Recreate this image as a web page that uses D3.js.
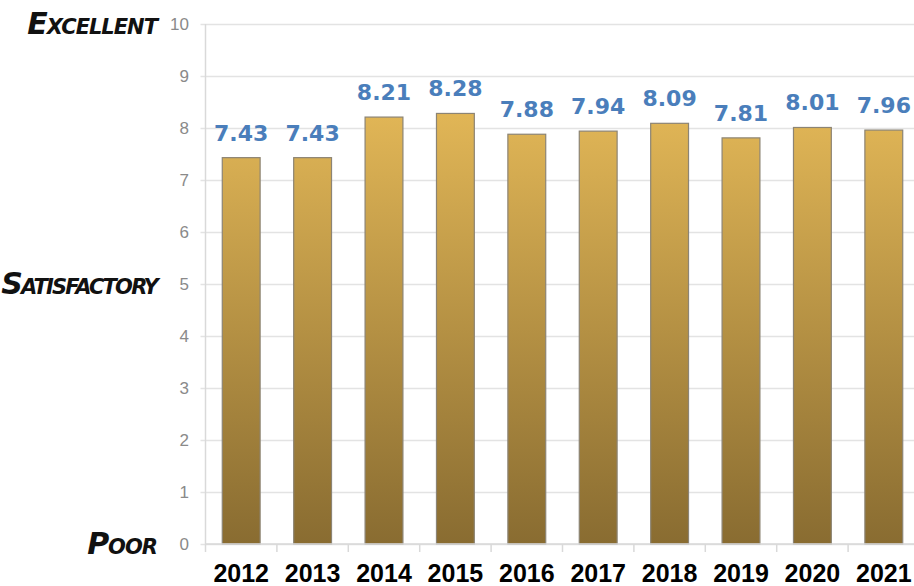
<!DOCTYPE html>
<html>
<head>
<meta charset="utf-8">
<script src="https://d3js.org/d3.v7.min.js"></script>
<style>
  body { margin: 0; background: #fff; overflow: hidden; }
  svg { display: block; }
</style>
</head>
<body>
<svg width="914" height="586"></svg>
<script>
// data
const years = ["2012", "2013", "2014", "2015", "2016", "2017", "2018", "2019", "2020", "2021"];
const scores = [7.43, 7.43, 8.21, 8.28, 7.88, 7.94, 8.09, 7.81, 8.01, 7.96];
const yTicks = [0, 1, 2, 3, 4, 5, 6, 7, 8, 9, 10];
const ratingLabels = ["Poor", "Satisfactory", "Excellent"];
const ratingValues = [0, 5, 10];

const svg = d3.select("svg");

// plot area
const plotLeft = 205.5, plotRight = 919.5, plotTop = 24, plotBottom = 544;

const x = d3.scaleBand()
    .domain(years)
    .range([plotLeft, plotRight])
    .paddingInner(0.47)
    .paddingOuter(0.235);

const y = d3.scaleLinear()
    .domain([0, 10])
    .range([plotBottom, plotTop]);

// gradient for the bars
const defs = svg.append("defs");
const grad = defs.append("linearGradient")
    .attr("id", "barGrad")
    .attr("gradientUnits", "userSpaceOnUse")
    .attr("x1", 0).attr("x2", 0)
    .attr("y1", y(10)).attr("y2", y(0));
grad.append("stop").attr("offset", "0%").attr("stop-color", "#f3c55e");
grad.append("stop").attr("offset", "100%").attr("stop-color", "#896c31");

// gridlines
svg.append("g")
    .selectAll("line")
    .data(yTicks)
    .enter()
    .append("line")
    .attr("x1", plotLeft - 5)
    .attr("x2", 914)
    .attr("y1", d => Math.round(y(d)) + 0.5)
    .attr("y2", d => Math.round(y(d)) + 0.5)
    .style("stroke", "#e3e3e3")
    .style("stroke-width", 1.5);

// vertical axis line
svg.append("line")
    .attr("x1", plotLeft).attr("x2", plotLeft)
    .attr("y1", plotTop).attr("y2", plotBottom)
    .style("stroke", "#d9d9d9")
    .style("stroke-width", 1.5);

// y tick labels
svg.append("g")
    .selectAll("text")
    .data(yTicks)
    .enter()
    .append("text")
    .attr("x", 189)
    .attr("y", d => y(d) + 6)
    .attr("text-anchor", "end")
    .style("font-family", "Liberation Sans, Arial, sans-serif")
    .style("font-size", "17px")
    .style("fill", "#8a8a8a")
    .text(d => d);

// rating words on the left (brush-like: heavy italic small caps)
svg.append("g")
    .selectAll("text")
    .data(ratingValues)
    .enter()
    .append("text")
    .attr("x", 157)
    .attr("y", d => y(d) + 10)
    .attr("text-anchor", "end")
    .style("font-family", "DejaVu Sans, sans-serif")
    .style("font-style", "italic")
    .style("font-weight", "bold")
    .style("font-variant", "small-caps")
    .style("font-size", "30px")
    .style("letter-spacing", d => d === 5 ? "-1.8px" : "-1px")
    .style("fill", "#111")
    .text((d, i) => ratingLabels[i]);

// bars
svg.append("g")
    .selectAll("rect")
    .data(scores)
    .enter()
    .append("rect")
    .attr("x", (d, i) => x(years[i]))
    .attr("y", d => y(d))
    .attr("width", x.bandwidth())
    .attr("height", d => y(0) - y(d))
    .style("fill", "url(#barGrad)")
    .style("stroke", "#8c8474")
    .style("stroke-width", 1.2);

// bottom axis
const xAxis = svg.append("g")
    .attr("transform", "translate(0," + plotBottom + ")");
xAxis.append("line")
    .attr("x1", plotLeft).attr("x2", 914)
    .style("stroke", "#d9d9d9")
    .style("stroke-width", 1.5);
xAxis.selectAll(".tick")
    .data(years)
    .enter()
    .append("line")
    .attr("x1", d => x(d) - x.step() * x.paddingInner() / 2)
    .attr("x2", d => x(d) - x.step() * x.paddingInner() / 2)
    .attr("y1", 0).attr("y2", 8)
    .style("stroke", "#d9d9d9")
    .style("stroke-width", 1.5);

// year labels
svg.append("g")
    .selectAll("text")
    .data(years)
    .enter()
    .append("text")
    .attr("x", d => x(d) + x.bandwidth() / 2)
    .attr("y", 582)
    .attr("text-anchor", "middle")
    .style("font-family", "Liberation Sans, Arial, sans-serif")
    .style("font-weight", "bold")
    .style("font-size", "25px")
    .style("fill", "#000")
    .text(d => d);

// value labels
svg.append("g")
    .selectAll("text")
    .data(scores)
    .enter()
    .append("text")
    .attr("x", (d, i) => x(years[i]) + x.bandwidth() / 2)
    .attr("y", d => y(d) - 17)
    .attr("text-anchor", "middle")
    .style("font-family", "DejaVu Sans, Verdana, sans-serif")
    .style("font-weight", "bold")
    .style("font-size", "22px")
    .style("fill", "#4a7ebb")
    .text(d => d.toFixed(2));
</script>
</body>
</html>
